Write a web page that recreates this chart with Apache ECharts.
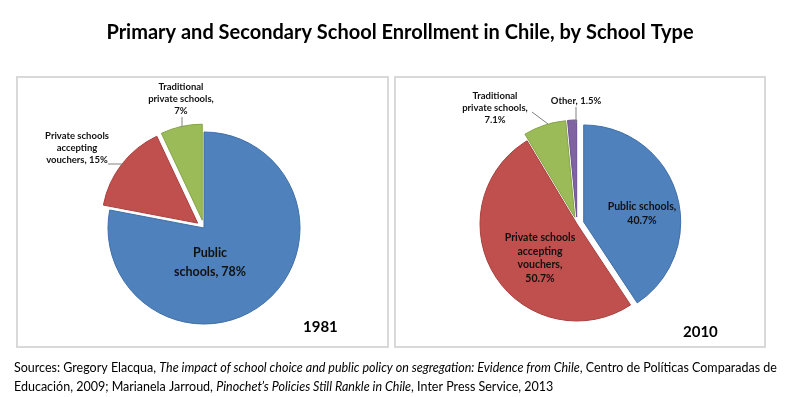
<!DOCTYPE html>
<html>
<head>
<meta charset="utf-8">
<script src="https://cdn.jsdelivr.net/npm/echarts@6/dist/echarts.min.js"></script>
<style>
  html, body { margin: 0; padding: 0; background: #fff; }
  #chart { width: 800px; height: 397px; }
</style>
</head>
<body>
<div id="chart"></div>
<script>
// data
var categories1981 = ['Public schools', 'Private schools accepting vouchers', 'Traditional private schools'];
var values1981 = [78, 15, 7];
var labels1981 = ['Public\nschools, 78%', 'Private schools\naccepting\nvouchers, 15%', 'Traditional\nprivate schools,\n7%'];

var categories2010 = ['Public schools', 'Private schools accepting vouchers', 'Traditional private schools', 'Other'];
var values2010 = [40.7, 50.7, 7.1, 1.5];
var labels2010 = ['Public schools,\n40.7%', 'Private schools\naccepting\nvouchers,\n50.7%', 'Traditional\nprivate schools,\n7.1%', 'Other, 1.5%'];

var colors = ['#4F81BD', '#C0504D', '#9BBB59', '#8064A2'];
var borders = ['#3F6FA8', '#A8403D', '#86A447', '#6A5190'];
var font = 'Lato';

// label placement, per pie / per slice
var labelSpots = [
  [
    { x: 210, y: 262, size: 12.5, lh: 19, inside: true },
    { x: 77, y: 148, size: 9.5, line: [[108, 164], [115, 164], [123, 164]] },
    { x: 181, y: 99, size: 9.5, line: [[182, 117], [182, 121], [182, 127]] }
  ],
  [
    { x: 642, y: 214, size: 10.5, lh: 14, inside: true },
    { x: 540, y: 258, size: 10.5, lh: 13.5, inside: true },
    { x: 495, y: 108, size: 9.5, line: [[532, 112], [540, 118], [548, 124]] },
    { x: 576, y: 101, size: 9.5, line: [[576, 107], [576, 114], [576, 123]] }
  ]
];

var pies = [
  { cats: categories1981, vals: values1981, labels: labels1981, center: [204, 228], radius: 96, offset: 8, exploded: [1, 2] },
  { cats: categories2010, vals: values2010, labels: labels2010, center: [577, 224], radius: 97, offset: 7, exploded: [0, 2, 3] }
];

function placeLabel(pieIdx) {
  return function (p) {
    var spot = labelSpots[pieIdx][p.dataIndex];
    var out = {
      x: spot.x,
      y: spot.y - p.labelRect.height / 2,
      align: 'center',
      verticalAlign: 'top'
    };
    if (spot.line) out.labelLinePoints = spot.line;
    return out;
  };
}

var series = [];
pies.forEach(function (pie, k) {
  // the slices
  series.push({
    type: 'pie',
    center: pie.center,
    radius: pie.radius,
    startAngle: 90,
    clockwise: true,
    selectedMode: 'multiple',
    selectedOffset: pie.offset,
    emphasis: { disabled: true },
    label: { show: false },
    labelLine: { show: false },
    data: pie.cats.map(function (c, i) {
      return {
        name: c,
        value: pie.vals[i],
        selected: pie.exploded.indexOf(i) >= 0,
        itemStyle: { color: colors[i], borderColor: borders[i], borderWidth: 1 }
      };
    })
  });
  // the labels, on a see-through copy of the same pie
  series.push({
    type: 'pie',
    center: pie.center,
    radius: pie.radius,
    startAngle: 90,
    clockwise: true,
    silent: true,
    avoidLabelOverlap: false,
    emphasis: { disabled: true },
    itemStyle: { color: 'rgba(0,0,0,0)', borderWidth: 0 },
    label: { show: true, fontFamily: font, fontWeight: 'bold', color: '#111', align: 'center' },
    labelLine: { show: true, lineStyle: { color: '#808080', width: 1 } },
    labelLayout: placeLabel(k),
    z: 5,
    data: pie.cats.map(function (c, i) {
      var spot = labelSpots[k][i];
      return {
        name: c,
        value: pie.vals[i],
        label: {
          position: spot.inside ? 'inside' : 'outside',
          formatter: pie.labels[i],
          fontSize: spot.size,
          lineHeight: spot.inside ? spot.lh : 12
        },
        labelLine: { show: !spot.inside }
      };
    })
  });
});

var chart = echarts.init(document.getElementById('chart'));

var option = {
  animation: false,
  title: [
    {
      text: 'Primary and Secondary School Enrollment in Chile, by School Type',
      left: 'center',
      top: 18,
      textStyle: { fontFamily: font, fontWeight: 'bold', fontSize: 20, color: '#000' }
    },
    {
      text: '1981',
      left: 298,
      top: 315,
      textStyle: { fontFamily: font, fontWeight: 'bold', fontSize: 15, color: '#000' }
    },
    {
      text: '2010',
      left: 678,
      top: 320,
      textStyle: { fontFamily: font, fontWeight: 'bold', fontSize: 15, color: '#000' }
    },
    {
      text: 'Sources: Gregory Elacqua, {i|The impact of school choice and public policy on segregation: Evidence from Chile}, Centro de Políticas Comparadas de\nEducación, 2009; Marianela Jarroud, {i|Pinochet\u2019s Policies Still Rankle in Chile}, Inter Press Service, 2013',
      left: 9,
      top: 353,
      textStyle: {
        fontFamily: font, fontWeight: 'normal', fontSize: 12.5, color: '#000', lineHeight: 19,
        rich: { i: { fontFamily: font, fontStyle: 'italic', fontSize: 12.5, color: '#000', lineHeight: 19 } }
      }
    }
  ],
  graphic: [
    { type: 'rect', shape: { x: 17, y: 77, width: 371, height: 270 }, style: { fill: '#fff', stroke: '#D9D9D9', lineWidth: 2 }, z: -10 },
    { type: 'rect', shape: { x: 395, y: 77, width: 370, height: 270 }, style: { fill: '#fff', stroke: '#D9D9D9', lineWidth: 2 }, z: -10 }
  ],
  series: series
};

chart.setOption(option);
</script>
</body>
</html>
